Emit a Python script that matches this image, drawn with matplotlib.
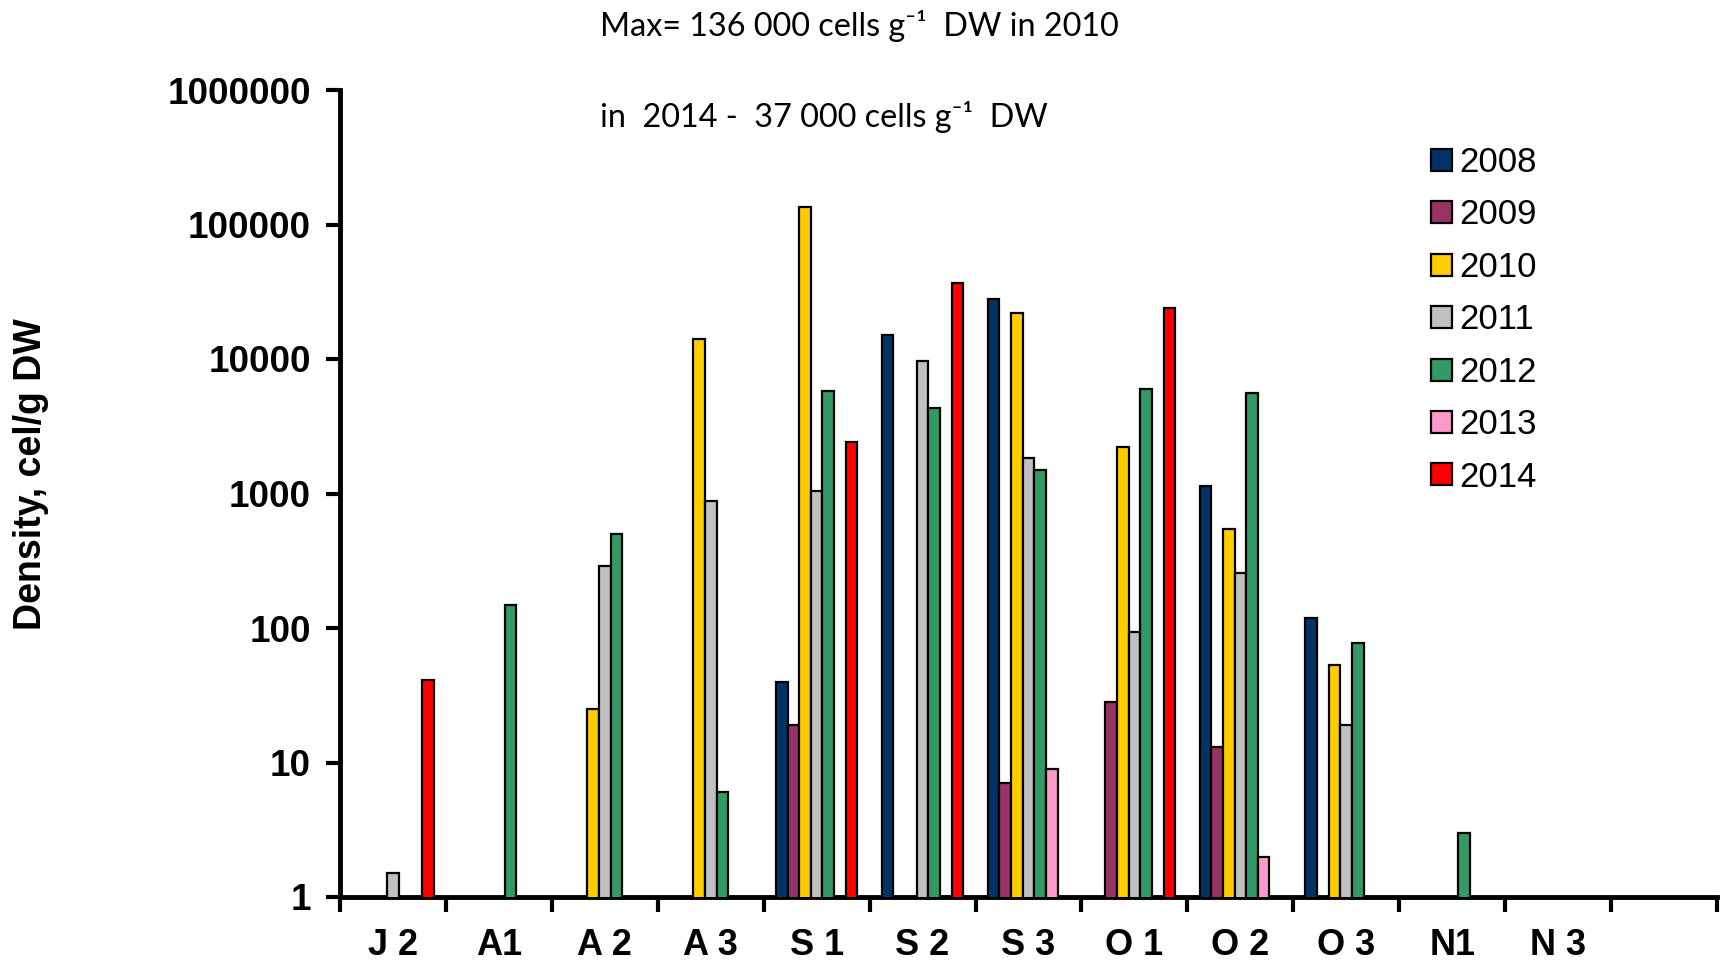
import numpy as np
import matplotlib
matplotlib.use("Agg")
import matplotlib.pyplot as plt
from matplotlib.patches import Patch

categories = ["J 2", "A1", "A 2", "A 3", "S 1", "S 2", "S 3", "O 1", "O 2", "O 3", "N1", "N 3"]
n_slots = 13
years = ["2008", "2009", "2010", "2011", "2012", "2013", "2014"]
colors = ["#003366", "#993366", "#FFCC00", "#C0C0C0", "#339966", "#FF99CC", "#FF0000"]
yticks = [1, 10, 100, 1000, 10000, 100000, 1000000]
nan = np.nan
v2008 = [nan, nan, nan, nan, 40, 15000, 27800, nan, 1140, 118, nan, nan]
v2009 = [nan, nan, nan, nan, 19, nan, 7, 28, 13, nan, nan, nan]
v2010 = [nan, nan, 25, 14000, 136000, nan, 22000, 2200, 545, 53, nan, nan]
v2011 = [1.5, nan, 288, 875, 1050, 9600, 1830, 93, 257, 19, nan, nan]
v2012 = [nan, 148, 500, 6, 5800, 4300, 1500, 6000, 5600, 78, 3, nan]
v2013 = [nan, nan, nan, nan, nan, nan, 9, nan, 2, nan, nan, nan]
v2014 = [41, nan, nan, nan, 2400, 37000, nan, 24000, nan, nan, nan, nan]
series = [v2008, v2009, v2010, v2011, v2012, v2013, v2014]

plt.rcParams['font.family'] = ['Liberation Sans', 'DejaVu Sans']

fig = plt.figure(figsize=(17.28, 9.6), dpi=100)
ax = fig.add_axes([340/1728, 1-897/960, (1717-340)/1728, (897-90)/960])

x = np.arange(len(categories)) + 0.5
w = 0.11
for j, (vals, c) in enumerate(zip(series, colors)):
    ax.bar(x + (j - 3) * w, vals, width=w, color=c, edgecolor="black", linewidth=1.6, zorder=3)

ax.set_yscale("log")
ax.set_ylim(1, 1e6)
ax.set_xlim(0, n_slots)
ax.yaxis.set_major_locator(matplotlib.ticker.FixedLocator(yticks))
ax.yaxis.set_minor_locator(matplotlib.ticker.NullLocator())
ax.set_yticklabels([str(t) for t in yticks], fontsize=26.5, fontweight="bold")

ax.set_xticks(np.arange(n_slots + 1))
ax.xaxis.set_major_formatter(matplotlib.ticker.NullFormatter())
ax.set_xticks(x, minor=True)
ax.set_xticklabels(categories, minor=True, fontsize=26, fontweight="bold")
ax.tick_params(axis="x", which="minor", length=0, pad=22)
ax.tick_params(axis="x", which="major", direction="out", length=11, width=3)
ax.tick_params(axis="y", which="major", direction="out", length=10, width=3, pad=11)

for s in ["top", "right"]:
    ax.spines[s].set_visible(False)
for s in ["left", "bottom"]:
    ax.spines[s].set_linewidth(3.5)

fig.text(31/1728, 1-474/960, "Density, cel/g DW", rotation=90, fontsize=27, fontweight="bold",
         ha="center", va="center")

fig.text(600/1728, 1-26/960, "Max= 136 000 cells g\u207b\u00b9  DW in 2010", fontsize=23.3,
         family=["Lato", "DejaVu Sans"], ha="left", va="center")
fig.text(600/1728, 1-117/960, "in  2014 -  37 000 cells g\u207b\u00b9  DW", fontsize=23.3,
         family=["Lato", "DejaVu Sans"], ha="left", va="center")

handles = [Patch(facecolor=c, edgecolor="black", linewidth=1.6) for c in colors]
leg = fig.legend(handles, years, loc="upper left", bbox_to_anchor=(1431/1728, 1-146/960),
                 frameon=False, fontsize=25, handlelength=0.6, handleheight=0.6,
                 handletextpad=0.2, labelspacing=0.56, borderpad=0, borderaxespad=0)

fig.savefig("out.png", dpi=100)
